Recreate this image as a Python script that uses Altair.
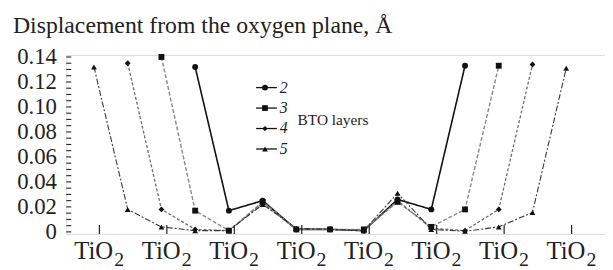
import altair as alt
import pandas as pd

# ---- data ----
positions = list(range(15))
series_names = ["2", "3", "4", "5"]
s2 = [None, None, None, 0.132, 0.017, 0.025, 0.002, 0.002, 0.001, 0.026, 0.018, 0.133, None, None, None]
s3 = [None, None, 0.140, 0.017, 0.001, 0.024, 0.002, 0.002, 0.002, 0.024, 0.004, 0.018, 0.133, None, None]
s4 = [None, 0.135, 0.018, 0.002, 0.001, 0.023, 0.002, 0.002, 0.001, 0.025, 0.003, 0.001, 0.018, 0.134, None]
s5 = [0.132, 0.018, 0.004, 0.001, 0.001, 0.022, 0.003, 0.002, 0.001, 0.031, 0.002, 0.0005, 0.004, 0.0155, 0.131]
x_tick_positions = [0.16, 2.16, 4.16, 6.16, 8.16, 10.16, 12.16, 14.16]
x_tick_labels = ["TiO"] * 8
x_tick_subs = ["2"] * 8
y_major = [0, 0.02, 0.04, 0.06, 0.08, 0.10, 0.12, 0.14]
y_minor = [round(0.005 * k, 3) for k in range(29)]
legend_title = "BTO layers"
chart_title = "Displacement from the oxygen plane, Å"

W, H = 545, 181
FONT = "Liberation Serif"

rows = []
for name, vals in zip(series_names, [s2, s3, s4, s5]):
    for p, v in zip(positions, vals):
        if v is not None:
            rows.append({"pos": p, "value": v, "series": name})
df = pd.DataFrame(rows)

xs = alt.Scale(domain=[-0.82, 15.15], nice=False, zero=False)
ys = alt.Scale(domain=[-0.0016, 0.1416], nice=False, zero=False)
y_axis = alt.Axis(
    values=y_major, labelExpr="datum.value == 0 ? '0' : format(datum.value, '.2f')",
    labelFont=FONT, labelFontSize=23, labelColor="#222222", ticks=False, domain=False,
    grid=False, labelPadding=10, labelOverlap=False, labelBound=False, title=None)


def X(field):
    return alt.X(field, scale=xs, axis=None)


def Y(field):
    return alt.Y(field, scale=ys, axis=y_axis)


shapes = ["circle", "square", "diamond", "triangle-up"]
line_colors = ["#111111", "#8a8a8a", "#6a6a6a", "#383838"]
dashes = [[1, 0], [4, 2], [3, 2], [6, 2, 2, 2]]
widths = [1.6, 1.1, 1.1, 1.2]
sizes = [36, 34, 28, 34]

base = alt.Chart(df)
lines = base.mark_line().encode(
    x=X("pos:Q"),
    y=Y("value:Q"),
    color=alt.Color("series:N", scale=alt.Scale(domain=series_names, range=line_colors), legend=None),
    strokeDash=alt.StrokeDash("series:N", scale=alt.Scale(domain=series_names, range=dashes), legend=None),
    strokeWidth=alt.StrokeWidth("series:N", scale=alt.Scale(domain=series_names, range=widths), legend=None),
    detail="series:N",
)
points = base.mark_point(filled=True, color="#111111", opacity=1).encode(
    x=X("pos:Q"),
    y=Y("value:Q"),
    shape=alt.Shape("series:N", scale=alt.Scale(domain=series_names, range=shapes), legend=None),
    size=alt.Size("series:N", scale=alt.Scale(domain=series_names, range=sizes), legend=None),
)

# ticks drawn inside the frame
xt = pd.DataFrame({"t": x_tick_positions, "lab": x_tick_labels, "sub": x_tick_subs})
x_ticks = alt.Chart(xt).mark_rule(color="#222222", strokeWidth=1.2).encode(
    x=X("t:Q"), y=alt.value(H), y2=alt.value(H - 9))
x_lab = alt.Chart(xt).mark_text(font=FONT, fontSize=25, align="right", baseline="alphabetic",
                                color="#222222", dx=14).encode(
    x=X("t:Q"), y=alt.value(H + 25), text="lab:N")
x_sub = alt.Chart(xt).mark_text(font=FONT, fontSize=20, align="left", baseline="alphabetic",
                                color="#222222", dx=15).encode(
    x=X("t:Q"), y=alt.value(H + 32), text="sub:N")

ymin = alt.Chart(pd.DataFrame({"v": y_minor})).mark_rule(color="#222222", strokeWidth=1.1).encode(
    y=Y("v:Q"), x=alt.value(0), x2=alt.value(5))

# manual legend
leg_layers = []
leg_df = pd.DataFrame({"series": series_names})
for k, name in enumerate(series_names):
    yy = 33 + 20.7 * k
    d = leg_df[leg_df["series"] == name]
    leg_layers.append(alt.Chart(d).mark_rule(color="#111111", strokeWidth=1.3).encode(
        x=alt.value(192), x2=alt.value(213), y=alt.value(yy)))
    leg_layers.append(alt.Chart(d).mark_point(filled=True, color="#111111", opacity=1,
                                              shape=shapes[k], size=sizes[k]).encode(
        x=alt.value(201), y=alt.value(yy)))
    leg_layers.append(alt.Chart(d).mark_text(font=FONT, fontSize=16, fontStyle="italic", align="left",
                                             baseline="middle", color="#222222").encode(
        x=alt.value(216), y=alt.value(yy), text="series:N"))
leg_t = alt.Chart(pd.DataFrame({"t": [legend_title]})).mark_text(
    font=FONT, fontSize=15.5, align="left", baseline="middle", color="#222222").encode(
    x=alt.value(234), y=alt.value(66), text="t:N")

chart = alt.layer(lines, points, x_ticks, x_lab, x_sub, ymin, *leg_layers, leg_t).properties(
    width=W, height=H,
    title=alt.TitleParams(chart_title, anchor="start", frame="group", dx=-54, offset=8,
                          font=FONT, fontSize=24, fontWeight="normal", color="#222222"),
    padding={"left": 59, "top": 46, "right": 0, "bottom": 35},
    autosize=alt.AutoSizeParams(type="none"),
).configure_view(stroke="#444444", strokeWidth=1.6).configure(
    background="white", font=FONT
).configure_axis(labelFont=FONT).configure_title(font=FONT)

chart.save("out.html", embed_options={"renderer": "svg", "actions": False})
